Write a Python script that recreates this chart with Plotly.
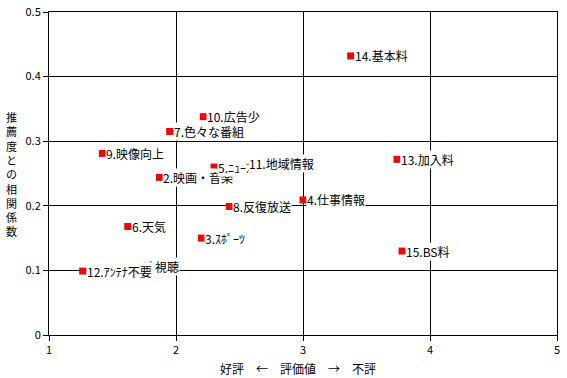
import plotly.graph_objects as go

# ---- data ----
labels = ["1.ﾋﾞ視聴", "2.映画・音楽", "3.ｽﾎﾟｰﾂ", "4.仕事情報", "5.ﾆｭｰｽ",
          "6.天気", "7.色々な番組", "8.反復放送", "9.映像向上", "10.広告少",
          "11.地域情報", "12.ｱﾝﾃﾅ不要", "13.加入料", "14.基本料", "15.BS料"]
eval_vals = [1.63, 1.87, 2.20, 3.00, 2.30, 1.62, 1.95, 2.42, 1.42, 2.215,
             2.54, 1.265, 3.74, 3.375, 3.78]
corr_vals = [0.106, 0.244, 0.150, 0.209, 0.260, 0.168, 0.315, 0.199, 0.281, 0.338,
             0.265, 0.099, 0.272, 0.432, 0.130]
x_ticks = [1, 2, 3, 4, 5]
y_ticks = [0, 0.1, 0.2, 0.3, 0.4, 0.5]
y_tick_text = ["0", "0.1", "0.2", "0.3", "0.4", "0.5"]
x_title = "好評　←　評価値　→　不評"
y_title = "推薦度との相関係数"

FONT = "Noto Sans CJK JP"
L, R, T, B = 49, 10, 12, 43
W, H = 567, 378
plot_h = H - T - B

fig = go.Figure()
fig.add_trace(go.Scatter(
    x=eval_vals, y=corr_vals, mode="markers",
    marker=dict(symbol="square", size=7, color="#ff0000", line=dict(width=0)),
    hoverinfo="text", text=labels, showlegend=False,
))

annotations = []
for lab, xv, yv in zip(labels, eval_vals, corr_vals):
    annotations.append(dict(
        x=xv, y=yv, xref="x", yref="y", text=lab, showarrow=False,
        xanchor="left", yanchor="middle", xshift=3,
        bgcolor="white", borderpad=0,
        font=dict(family=FONT, size=12, color="black"),
    ))

# vertical stacked y-axis title
annotations.append(dict(
    x=0, y=(335 - 173.5) / plot_h, xref="paper", yref="paper",
    text="<br>".join(y_title), showarrow=False,
    xanchor="center", yanchor="middle", xshift=-38,
    font=dict(family=FONT, size=11, color="black"),
))
# x-axis title
annotations.append(dict(
    x=0.5, y=(335 - 369) / plot_h, xref="paper", yref="paper",
    text=x_title, showarrow=False, xanchor="center", yanchor="middle", xshift=-5,
    font=dict(family=FONT, size=12, color="black"),
))

axis_common = dict(
    showgrid=True, gridcolor="black", gridwidth=1,
    showline=True, linecolor="black", linewidth=1, mirror=True,
    zeroline=False, ticks="outside", ticklen=5, tickcolor="black", tickwidth=1,
    tickfont=dict(family=FONT, size=11, color="black"),
    automargin=False, ticklabeloverflow="allow",
)

fig.update_layout(
    width=W, height=H,
    margin=dict(l=L, r=R, t=T, b=B, autoexpand=False),
    paper_bgcolor="white", plot_bgcolor="white",
    xaxis=dict(range=[1, 5], tickmode="array", tickvals=x_ticks,
               ticktext=[str(v) for v in x_ticks], **axis_common),
    yaxis=dict(range=[0, 0.5], tickmode="array", tickvals=y_ticks,
               ticktext=y_tick_text, **axis_common),
    annotations=annotations,
)

fig.write_html("out.html", config={"displayModeBar": False},
               post_script="document.body.style.margin='0px';")
